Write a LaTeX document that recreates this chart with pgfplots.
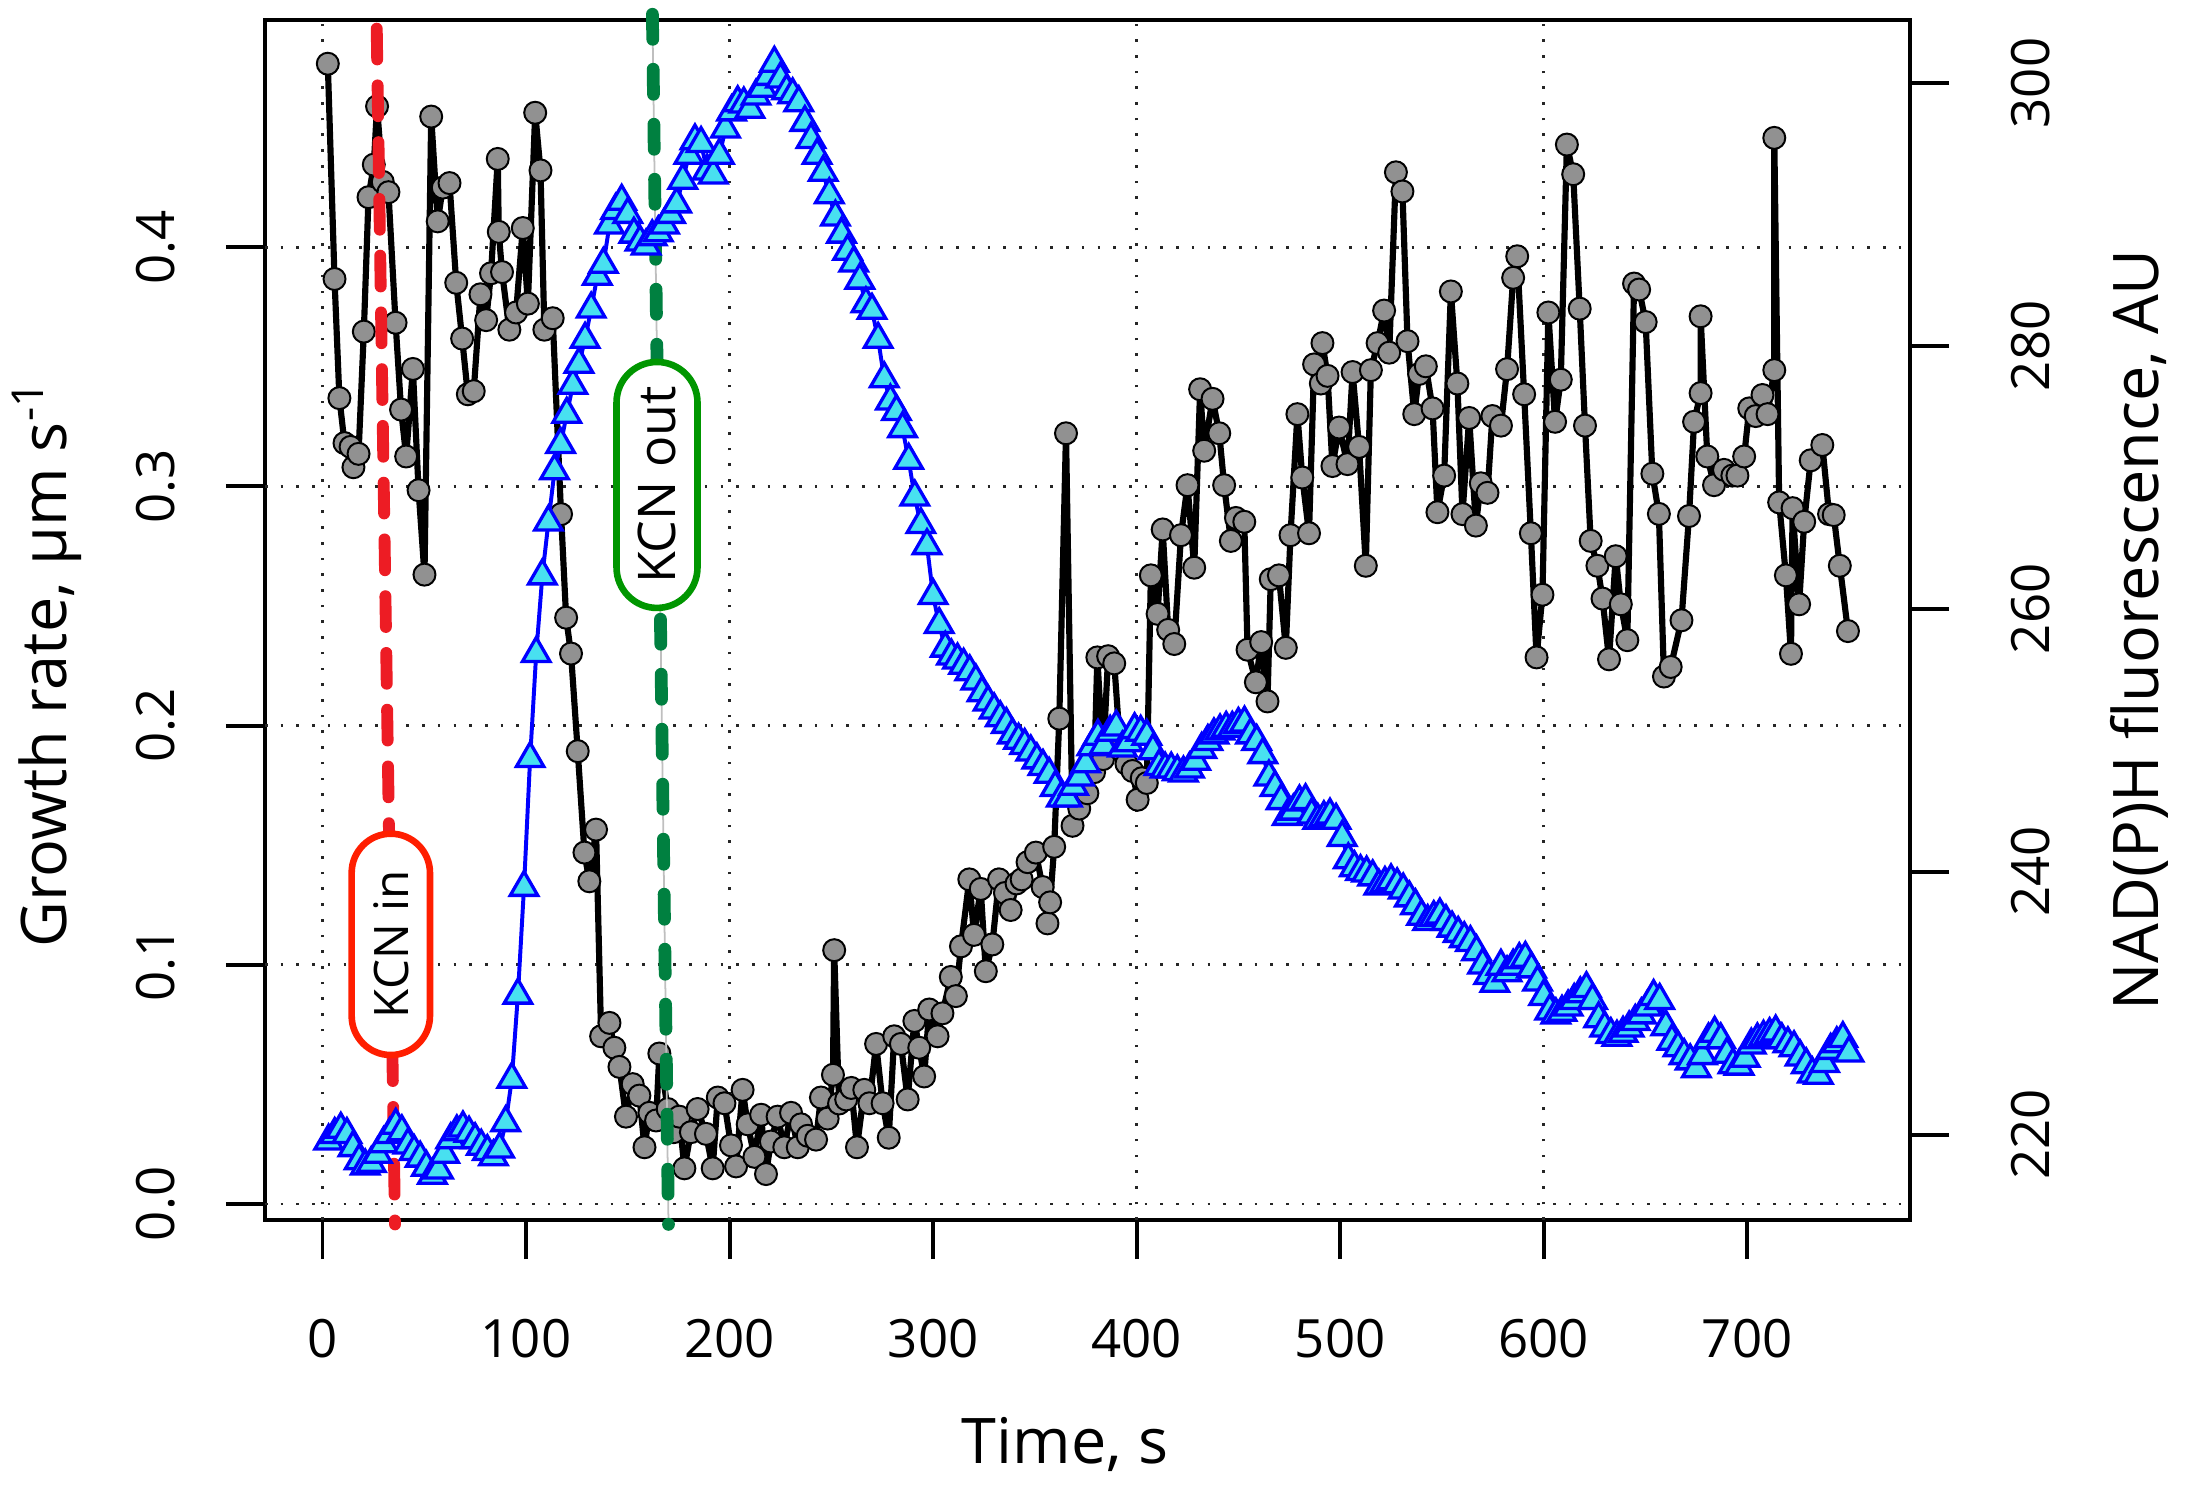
\documentclass[border=0pt]{standalone}
\usepackage{fontspec}
\setmainfont{Open Sans}
\usepackage{pgfplots}
\usepackage{pgfplotstable}
\pgfplotsset{compat=1.18}
\definecolor{ptgray}{RGB}{145,145,145}
\definecolor{tricyan}{RGB}{72,224,240}
\definecolor{kcnred}{RGB}{237,28,36}
\definecolor{kcnredbox}{RGB}{255,30,0}
\definecolor{kcngreen}{RGB}{0,128,64}
\definecolor{kcngreenbox}{RGB}{0,150,0}
\pgfplotsset{discard if/.style 2 args={x filter/.append code={\edef\tempa{\thisrow{#1}}\edef\tempb{#2}\ifx\tempa\tempb\def\pgfmathresult{inf}\fi}}}

% growth rate: t g f  (f=1 point on line, 0 line vertex only, 2 point only)
\pgfplotstableread{
t g f
2.6 0.4767 1
5.9 0.3867 1
8.3 0.3369 1
10.8 0.3181 1
13.8 0.3165 1
15.2 0.3080 0
17.7 0.3136 1
20.3 0.3647 1
22.6 0.4209 1
25.2 0.4345 0
26.8 0.4589 2
29.6 0.4273 1
32.4 0.4230 1
35.9 0.3684 1
38.6 0.3321 1
41.1 0.3125 1
44.4 0.3491 2
47.2 0.2984 1
50.1 0.2631 2
53.4 0.4546 1
56.6 0.4108 1
59.1 0.4249 1
62.4 0.4268 1
65.7 0.3851 1
68.6 0.3618 1
71.4 0.3385 1
74.3 0.3398 1
77.6 0.3803 1
80.4 0.3695 1
82.8 0.3891 1
86.1 0.4369 2
86.6 0.4064 0
88.2 0.3896 1
91.8 0.3655 1
95.1 0.3727 1
98.4 0.4080 2
100.9 0.3764 1
104.5 0.4562 2
107.1 0.4321 1
109.0 0.3655 1
113.1 0.3703 1
117.2 0.2884 1
119.7 0.2451 1
122.1 0.2301 1
125.4 0.1893 1
128.7 0.1469 1
131.1 0.1349 1
134.4 0.1565 2
136.9 0.0701 1
141.0 0.0757 1
143.4 0.0653 1
145.9 0.0573 1
149.1 0.0365 1
152.4 0.0501 1
155.7 0.0453 1
158.2 0.0237 2
160.6 0.0381 1
163.9 0.0349 1
165.5 0.0629 1
169.6 0.0397 1
172.5 0.0300 1
175.3 0.0365 1
177.8 0.0149 1
181.0 0.0300 1
184.3 0.0397 1
188.4 0.0293 1
191.7 0.0149 2
194.2 0.0445 1
197.5 0.0421 1
200.7 0.0245 1
203.2 0.0157 2
206.4 0.0477 1
208.9 0.0333 1
212.2 0.0197 1
215.5 0.0373 1
217.9 0.0125 1
220.3 0.0261 1
223.6 0.0365 1
226.9 0.0237 1
230.2 0.0381 1
233.5 0.0237 1
235.1 0.0333 1
238.4 0.0285 1
242.5 0.0269 1
244.9 0.0445 1
248.2 0.0357 1
250.8 0.0540 0
251.4 0.1061 2
253.8 0.0420 1
257.3 0.0437 1
259.8 0.0485 1
262.6 0.0237 2
266.2 0.0477 1
268.7 0.0421 1
272.0 0.0669 1
275.2 0.0421 1
278.2 0.0277 1
280.9 0.0701 1
284.2 0.0669 1
287.5 0.0437 1
290.8 0.0765 1
293.2 0.0653 1
295.6 0.0533 1
298.1 0.0813 1
302.2 0.0701 1
304.6 0.0797 1
308.7 0.0949 1
311.2 0.0869 1
313.7 0.1077 1
317.8 0.1357 1
320.1 0.1125 1
323.4 0.1317 1
325.9 0.0973 2
329.1 0.1085 1
332.4 0.1357 1
335.3 0.1300 1
338.1 0.1229 1
341.0 0.1340 1
343.5 0.1357 1
346.4 0.1429 1
350.5 0.1469 1
353.8 0.1325 1
356.2 0.1173 2
357.5 0.1261 0
359.5 0.1493 1
362.0 0.2029 1
365.3 0.3222 1
368.5 0.1581 1
371.8 0.1653 1
375.8 0.1717 1
379.1 0.1805 1
380.7 0.2285 1
383.5 0.1860 1
386.0 0.2290 1
389.0 0.2260 1
392.0 0.1900 1
395.0 0.1840 1
398.0 0.1810 1
400.5 0.1690 0
402.5 0.1780 1
405.0 0.1760 1
407.0 0.2628 2
410.3 0.2467 1
412.8 0.2820 2
415.5 0.2400 1
418.5 0.2341 1
421.8 0.2796 1
425.0 0.3005 1
428.3 0.2660 1
431.2 0.3406 2
433.2 0.3149 1
437.3 0.3366 2
440.6 0.3222 1
443.0 0.3005 1
446.3 0.2772 1
448.8 0.2868 1
452.9 0.2852 1
454.5 0.2317 1
458.6 0.2181 1
461.2 0.2349 1
464.3 0.2101 1
465.9 0.2612 1
469.9 0.2628 1
473.3 0.2325 2
475.6 0.2796 1
479.0 0.3302 2
481.4 0.3037 1
484.7 0.2804 1
487.2 0.3510 1
490.5 0.3430 1
491.3 0.3599 0
493.8 0.3462 1
496.2 0.3085 1
499.5 0.3246 1
503.6 0.3093 1
506.1 0.3478 1
509.3 0.3165 1
512.6 0.2668 1
515.1 0.3486 1
518.4 0.3599 1
521.6 0.3735 1
524.1 0.3559 1
527.4 0.4313 1
530.6 0.4233 1
533.1 0.3607 1
536.4 0.3302 1
538.8 0.3470 1
542.1 0.3502 1
545.4 0.3326 1
547.8 0.2892 1
551.1 0.3045 1
554.4 0.3815 1
557.6 0.3430 1
560.1 0.2884 1
563.4 0.3286 1
566.7 0.2836 1
569.1 0.3013 1
572.4 0.2973 1
574.8 0.3294 1
579.0 0.3254 1
582.0 0.3490 1
585.0 0.3872 1
587.0 0.3962 1
590.4 0.3385 1
593.7 0.2804 1
596.5 0.2285 1
599.4 0.2547 1
602.3 0.3727 2
605.6 0.3270 1
608.4 0.3446 1
611.4 0.4429 1
614.5 0.4305 1
617.7 0.3743 1
620.3 0.3254 1
623.1 0.2772 1
626.4 0.2668 1
628.9 0.2531 1
632.1 0.2277 1
635.4 0.2708 1
637.9 0.2507 1
641.1 0.2357 1
644.4 0.3848 1
646.9 0.3823 1
650.1 0.3687 1
653.4 0.3053 1
656.6 0.2885 1
659.1 0.2205 1
662.4 0.2245 1
667.7 0.2440 1
671.4 0.2876 1
673.9 0.3270 1
677.1 0.3390 0
677.1 0.3711 2
680.4 0.3125 1
683.7 0.3005 1
688.6 0.3069 1
692.7 0.3045 1
695.2 0.3045 1
698.5 0.3125 1
701.0 0.3326 1
704.2 0.3294 1
707.5 0.3382 1
710.0 0.3302 1
713.3 0.3486 0
713.3 0.4457 2
715.7 0.2933 1
719.0 0.2628 1
721.5 0.2300 0
722.3 0.2909 2
725.5 0.2507 1
728.0 0.2852 1
731.2 0.3109 1
736.9 0.3173 1
740.2 0.2884 1
742.5 0.2880 1
745.5 0.2668 1
749.5 0.2395 1
}\growthdata

% NAD(P)H fluorescence: t n
\pgfplotstableread{
t n
3 219.5
6 220.0
9 220.4
12 220.0
15 219.0
18 218.0
21 217.6
24 217.8
27 218.5
30 219.3
33 220.0
36 220.7
39 220.2
42 219.2
45 218.7
48 218.2
51 217.5
54 216.9
57 217.3
60 218.5
63 219.6
66 220.2
69 220.5
72 220.1
75 219.6
78 219.1
81 218.7
84 218.3
87 218.9
90 220.9
93 224.2
96 230.6
99 238.8
102 248.6
105 256.6
108 262.5
111 266.6
114 270.5
117 272.5
120 274.8
123 277.0
126 278.6
129 280.5
132 282.8
135 285.3
138 286.2
141 289.2
144 290.3
147 291.0
150 290.0
153 288.5
156 287.9
159 287.6
162 288.3
165 288.6
168 289.2
171 290.0
174 290.8
177 292.6
180 294.5
183 295.6
186 295.4
189 293.3
192 293.0
195 294.5
198 296.5
201 297.8
204 298.5
207 298.4
210 298.0
213 299.0
216 299.6
219 300.5
222 301.5
225 300.3
228 299.4
231 299.1
234 298.5
237 297.0
240 295.7
243 294.5
246 293.2
249 291.5
252 289.8
255 288.5
258 287.2
261 286.3
264 285.0
267 283.2
270 282.7
273 280.5
276 277.5
279 275.8
282 275.0
285 273.7
288 271.3
291 268.5
294 266.4
297 264.8
300 261.0
303 258.8
306 257.0
309 256.4
312 256.1
315 255.7
318 255.2
321 254.5
324 253.6
327 252.9
330 252.3
333 251.7
336 251.2
339 250.4
342 250.0
345 249.6
348 249.1
351 248.5
354 248.0
357 247.4
360 246.4
363 245.6
366 245.6
369 246.5
372 247.2
375 248.2
378 249.5
381 250.3
384 249.6
387 250.6
390 251.0
393 249.4
396 249.8
399 250.8
402 250.6
405 250.3
408 249.2
411 248.0
414 247.8
417 247.8
420 247.6
423 247.5
426 247.8
429 248.4
432 249.3
435 249.9
438 250.4
441 250.7
444 250.9
447 250.9
450 251.2
453 251.3
456 250.4
459 249.9
462 248.9
465 247.2
468 246.4
471 245.4
474 244.2
477 244.6
480 245.3
483 245.4
486 244.3
489 243.9
492 244.1
495 244.3
498 243.9
501 242.6
504 240.9
507 240.3
510 240.0
513 239.9
516 239.6
519 238.9
522 239.1
525 239.3
528 239.0
531 238.6
534 238.0
537 237.4
540 236.6
543 236.2
546 236.5
549 236.7
552 236.2
555 235.7
558 235.3
561 234.9
564 234.6
567 233.9
570 232.9
573 232.1
576 231.5
579 232.8
582 232.3
585 232.8
588 233.3
591 233.4
594 232.6
597 231.6
600 230.5
603 229.4
606 229.1
609 229.3
612 229.7
615 230.2
618 230.7
621 231.1
624 230.2
627 228.8
630 228.1
633 227.6
636 227.4
639 227.7
642 228.1
645 228.6
648 229.1
651 229.7
654 230.5
657 230.2
660 228.2
663 227.1
666 226.6
669 226.0
672 225.6
675 225.0
678 226.0
681 227.2
684 227.7
687 227.2
690 226.1
693 225.3
696 225.2
699 225.8
702 226.8
705 227.2
708 227.4
711 227.6
714 227.8
717 227.2
720 226.9
723 226.6
726 225.9
729 225.3
732 224.6
735 224.5
738 225.4
741 226.4
744 226.9
747 227.3
750 226.2
}\nadhdata

\begin{document}
\begin{tikzpicture}
\useasboundingbox (-60.23pt,-61.82pt) rectangle (436.36pt,277.27pt);
\tikzset{griddot/.style={black!85, line width=0.6pt, dash pattern=on 0.6pt off 2.97pt}}
\begin{axis}[
  at={(0pt,0pt)}, anchor=south west,
  scale only axis, width=373.86pt, height=272.73pt,
  xmin=-28.25, xmax=780, ymin=-0.0067, ymax=0.495,
  clip=false,
  axis line style={line width=0.9pt},
  xtick={0,100,...,700}, ytick={0,0.1,0.2,0.3,0.4},
  xtick pos=left, ytick pos=left,
  tick align=outside, major tick length=8.9pt,
  tick style={line width=0.9pt, black},
  /pgf/number format/assume math mode=true,
  ticklabel style={font=\fontsize{12}{14}\selectfont},
  xticklabel style={anchor=base, yshift=-22.46pt},
  yticklabel style={xshift=-11.78pt, rotate=90, anchor=base,
    /pgf/number format/fixed, /pgf/number format/fixed zerofill, /pgf/number format/precision=1},
]
\foreach \gx in {0,200,400,600}{
  \edef\temp{\noexpand\draw[griddot] (axis cs:\gx,-0.0067) -- (axis cs:\gx,0.495);}\temp
}
\foreach \gy in {0,0.1,0.2,0.3,0.4}{
  \edef\temp{\noexpand\draw[griddot] (axis cs:-28.25,\gy) -- (axis cs:780,\gy);}\temp
}
\addplot[black, line width=1.4pt, miter limit=4, discard if={f}{2}] table[x=t,y=g]{\growthdata};
\addplot[only marks, mark=*, mark size=2.5pt, mark options={fill=ptgray, draw=black, line width=0.45pt}, discard if={f}{0}] table[x=t,y=g]{\growthdata};
\end{axis}
\begin{axis}[
  at={(0pt,0pt)}, anchor=south west,
  scale only axis, width=373.86pt, height=272.73pt,
  xmin=-28.25, xmax=780, ymin=213.5, ymax=304.8,
  clip=false,
  axis x line=none, axis y line*=right,
  axis line style={line width=0.9pt},
  ytick={220,240,...,300},
  tick align=outside, major tick length=8.9pt,
  tick style={line width=0.9pt, black},
  /pgf/number format/assume math mode=true,
  ticklabel style={font=\fontsize{12}{14}\selectfont},
  yticklabel style={xshift=22.9pt, rotate=90, anchor=base},
]
\addplot[blue, line width=0.9pt, mark=triangle*, mark size=3.6pt, mark options={fill=tricyan, draw=blue, line width=0.75pt}] table[x=t,y=n]{\nadhdata};
% treatment markers
\draw[gray!50, line width=0.4pt] (rel axis cs:0.2355,1.00475) -- (rel axis cs:0.24529,-0.00367);
\draw[kcnred, line width=2.7pt, line cap=round, dash pattern=on 7pt off 5.9pt] (rel axis cs:0.06791,0.99275) -- (rel axis cs:0.07903,-0.00367);
\draw[kcngreen, line width=2.9pt, line cap=round, dash pattern=on 5.7pt off 6.8pt] (rel axis cs:0.2355,1.00475) -- (rel axis cs:0.24529,-0.00367);
\node[draw=kcnredbox, fill=white, line width=1.5pt, rounded corners=8.9pt, minimum width=50.3pt, minimum height=17.8pt, inner sep=0pt, rotate=90, font=\fontsize{10.8}{12}\selectfont] at (rel axis cs:0.07647,0.22967) {KCN in};
\node[draw=kcngreenbox, fill=white, line width=1.5pt, rounded corners=9.2pt, minimum width=55.9pt, minimum height=18.4pt, inner sep=0pt, rotate=90, font=\fontsize{11.8}{13}\selectfont] at (rel axis cs:0.2383,0.6125) {KCN out};
% axis titles
\node[rotate=90, anchor=base, font=\fontsize{14.3}{16}\selectfont] at (rel axis cs:-0.1204,0.4633) {Growth rate, μm s\textsuperscript{-1}};
\node[rotate=90, anchor=base, font=\fontsize{14.3}{16}\selectfont] at (rel axis cs:1.1508,0.4917) {NAD(P)H fluorescence, AU};
\node[anchor=base, font=\fontsize{14.3}{16}\selectfont] at (rel axis cs:0.4863,-0.2033) {Time, s};
\end{axis}
\end{tikzpicture}
\end{document}
